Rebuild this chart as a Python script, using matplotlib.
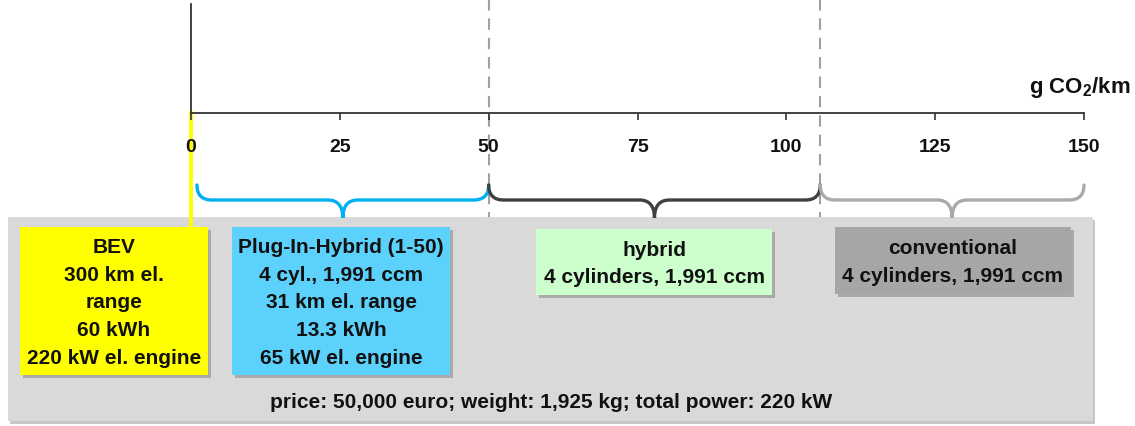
import matplotlib
matplotlib.use("Agg")
import matplotlib.pyplot as plt
from matplotlib.patches import Rectangle, PathPatch
from matplotlib.path import Path
from matplotlib.transforms import blended_transform_factory

plt.rcParams['font.family'] = ['Liberation Sans', 'DejaVu Sans']
plt.rcParams['mathtext.fontset'] = 'custom'
plt.rcParams['mathtext.rm'] = 'Liberation Sans:bold'

# axis values (g CO2/km)
ticks = [0, 25, 50, 75, 100, 125, 150]
x_max = 150
# class boundaries on the CO2 scale
seg_edges = [1, 50, 105.7, 150]
seg_colors = ['#00b0f0', '#404040', '#aaaaaa']
dash_at = [50, 105.7]

box_labels = [
    "BEV\n300 km el.\nrange\n60 kWh\n220 kW el. engine",
    "Plug-In-Hybrid (1-50)\n4 cyl., 1,991 ccm\n31 km el. range\n13.3 kWh\n65 kW el. engine",
    "hybrid\n4 cylinders, 1,991 ccm",
    "conventional\n4 cylinders, 1,991 ccm",
]
box_colors = ['#ffff00', '#5bd1fb', '#ccffcc', '#a6a6a6']
footer = "price: 50,000 euro; weight: 1,925 kg; total power: 220 kW"

# layout in pixels (x0, y0, x1, y1)
box_pos = [(20, 228, 208, 376), (232, 228, 450, 376),
           (536, 230, 772, 296), (835, 228, 1071, 295)]

W, H = 1135, 427
fig = plt.figure(figsize=(W / 100, H / 100), dpi=100)
ax = fig.add_axes([0, 0, 1, 1])
ax.set_xlim(0, W)
ax.set_ylim(H, 0)
ax.axis('off')

# number line
axl = fig.add_axes([191 / W, 1 - 114 / H, (1084 - 191) / W, (114 - 5) / H])
axl.set_xlim(0, x_max)
axl.patch.set_alpha(0)
for s in ['top', 'right']:
    axl.spines[s].set_visible(False)
for s in ['left', 'bottom']:
    axl.spines[s].set_color('#333333')
    axl.spines[s].set_linewidth(1.3)
axl.set_yticks([])
axl.set_xticks(ticks)
axl.set_xticklabels([str(t) for t in ticks], fontweight='bold')
axl.tick_params(axis='x', direction='out', length=5, width=1.2, color='#333333',
                pad=13, labelsize=14, labelcolor='#111111')
fig.text(1131 / W, 1 - 88 / H, "g CO$_2$/km", ha='right', va='center',
         fontsize=16, fontweight='bold', color='#111111')

tr = blended_transform_factory(axl.transData, ax.transData)

# panel
ax.add_patch(Rectangle((10, 221), 1085, 204, fc='#a0a0a0', ec='none', alpha=0.6))
ax.add_patch(Rectangle((8, 218), 1085, 204, fc='#d9d9d9', ec='none'))

# dashed separators
for xd in dash_at:
    ax.plot([xd, xd], [0, 218], transform=tr, color='#a0a0a0', lw=1.5,
            dashes=(5.5, 3.8), zorder=3)

# yellow marker from 0
ax.plot([0, 0], [114, 228], transform=tr, color='#ffff00', lw=2.8, zorder=2)

# braces
y_top, y_flat, y_tip = 186, 201, 219
rx = 15 / 5.96
for a, b, c in zip(seg_edges[:-1], seg_edges[1:], seg_colors):
    m = (a + b) / 2
    verts = [(a, y_top), (a, y_flat), (a + rx, y_flat),
             (m - rx, y_flat), (m, y_flat), (m, y_tip),
             (m, y_flat), (m + rx, y_flat),
             (b - rx, y_flat), (b, y_flat), (b, y_top)]
    codes = [Path.MOVETO, Path.CURVE3, Path.CURVE3,
             Path.LINETO, Path.CURVE3, Path.CURVE3,
             Path.CURVE3, Path.CURVE3,
             Path.LINETO, Path.CURVE3, Path.CURVE3]
    ax.add_patch(PathPatch(Path(verts, codes), transform=tr, fc='none',
                           ec=c, lw=2.4, capstyle='round', zorder=4))

# boxes
for (x0, y0, x1, y1), lab, col in zip(box_pos, box_labels, box_colors):
    ax.add_patch(Rectangle((x0 + 3, y0 + 3), x1 - x0, y1 - y0, fc='#8a8a8a',
                           ec='none', alpha=0.6, zorder=4))
    ax.add_patch(Rectangle((x0, y0), x1 - x0, y1 - y0, fc=col, ec='none', zorder=5))
    ax.text((x0 + x1) / 2, (y0 + y1) / 2 + 1, lab, ha='center', va='center',
            fontsize=15, fontweight='bold', color='#111111', linespacing=1.58,
            zorder=6)

ax.text(551, 403, footer, ha='center', va='center', fontsize=15,
        fontweight='bold', color='#111111', zorder=6)

fig.savefig("out.png", dpi=100)
